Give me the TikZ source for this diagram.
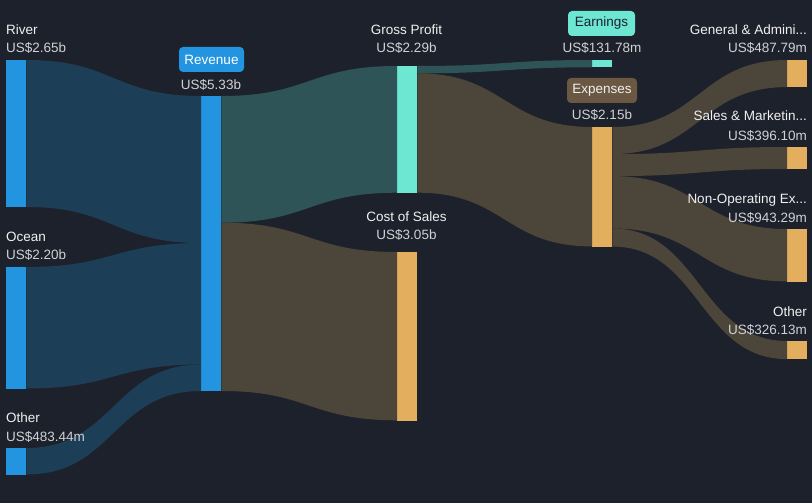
\documentclass[tikz,border=0pt]{standalone}
\usepackage{fontspec}
\setmainfont{Liberation Sans}
\usetikzlibrary{calc}
\definecolor{bg}{HTML}{1D212B}
\definecolor{barblue}{HTML}{2394DF}
\definecolor{flowblue}{HTML}{1D3E57}
\definecolor{barteal}{HTML}{6DE6D2}
\definecolor{flowteal}{HTML}{2E5457}
\definecolor{bartan}{HTML}{E4AE5F}
\definecolor{flowbrown}{HTML}{4C453A}
\definecolor{exptag}{HTML}{6B5843}
\definecolor{lblc}{HTML}{F0F0F0}
\definecolor{valc}{HTML}{CFD1D4}
\newcommand\sflow[6]{%
  \fill[#6] let \p1=($(#1.north east)+(0,#2)$), \p2=($(#3.north west)+(0,#4)$),
    \p3=($(\p1)!0.5!(\p2)$), \p4=($(\p2)+(0,#5)$), \p5=($(\p1)+(0,#5)$) in
    (\p1) .. controls (\x3,\y1) and (\x3,\y2) .. (\p2) -- (\p4)
    .. controls (\x3,\y4) and (\x3,\y5) .. (\p5) -- cycle;}
\begin{document}
\begin{tikzpicture}[x=1pt,y=-1pt,
  bar/.style={rectangle, inner sep=0pt, minimum width=20pt, anchor=north west},
  lbl/.style={font=\fontsize{13.5}{16}\selectfont, text=lblc, inner sep=0pt},
  val/.style={lbl, text=valc},
  tag/.style={rectangle, rounded corners=4pt, minimum height=25pt, inner sep=0pt, font=\fontsize{13.5}{16}\selectfont}]
\fill[bg] (0,0) rectangle (812,503);
\useasboundingbox (0,0) rectangle (812,503);
% bars
\node[bar, fill=barblue, minimum height=147pt] (river) at (6,60) {};
\node[bar, fill=barblue, minimum height=121.5pt] (ocean) at (6,267) {};
\node[bar, fill=barblue, minimum height=27pt] (othL) at (6,448) {};
\node[bar, fill=barblue, minimum height=295pt] (revenue) at (201,96) {};
\node[bar, fill=barteal, minimum height=126.7pt] (gp) at (397,66) {};
\node[bar, fill=bartan, minimum height=168.3pt] (cos) at (397,252) {};
\node[bar, fill=barteal, minimum height=7.3pt] (earn) at (592,60) {};
\node[bar, fill=bartan, minimum height=119.6pt] (exp) at (592,127) {};
\node[bar, fill=bartan, minimum height=27.1pt] (ga) at (787,60) {};
\node[bar, fill=bartan, minimum height=22pt] (sm) at (787,147) {};
\node[bar, fill=bartan, minimum height=52.4pt] (nonop) at (787,229) {};
\node[bar, fill=bartan, minimum height=18.1pt] (othR) at (787,341) {};
% flows
\sflow{river}{0}{revenue}{0}{147}{flowblue}
\sflow{ocean}{0}{revenue}{147}{121.5}{flowblue}
\sflow{othL}{0}{revenue}{268.5}{26.5}{flowblue}
\sflow{revenue}{0}{gp}{0}{126.7}{flowteal}
\sflow{revenue}{126.7}{cos}{0}{168.3}{flowbrown}
\sflow{gp}{0}{earn}{0}{7.3}{flowteal}
\sflow{gp}{7.3}{exp}{0}{119.4}{flowbrown}
\sflow{exp}{0}{ga}{0}{27.1}{flowbrown}
\sflow{exp}{27.1}{sm}{0}{22}{flowbrown}
\sflow{exp}{49.1}{nonop}{0}{52.4}{flowbrown}
\sflow{exp}{101.5}{othR}{0}{18.1}{flowbrown}
% left labels
\node[lbl, anchor=base west] (riverL) at (6,34.5) {River};
\node[val, anchor=base west] (riverV) at (6,52.5) {US\$2.65b};
\node[lbl, anchor=base west] (oceanL) at (6,241.5) {Ocean};
\node[val, anchor=base west] (oceanV) at (6,259.5) {US\$2.20b};
\node[lbl, anchor=base west] (othLL) at (6,422.5) {Other};
\node[val, anchor=base west] (othLV) at (6,441) {US\$483.44m};
% middle labels
\node[tag, fill=barblue, text=white, minimum width=65pt] (revtag) at (211.5,59.5) {Revenue};
\node[val, anchor=base] (revV) at (211,89) {US\$5.33b};
\node[lbl, anchor=base] (gpL) at (406.5,35) {Gross Profit};
\node[val, anchor=base] (gpV) at (406.5,53) {US\$2.29b};
\node[lbl, anchor=base] (cosL) at (406.5,221) {Cost of Sales};
\node[val, anchor=base] (cosV) at (406.5,239) {US\$3.05b};
\node[tag, fill=barteal, text=bg, minimum width=67pt] (earntag) at (601.5,23.5) {Earnings};
\node[val, anchor=base] (earnV) at (602,53) {US\$131.78m};
\node[tag, fill=exptag, text=lblc, minimum width=70pt] (exptagn) at (602,90.5) {Expenses};
\node[val, anchor=base] (expV) at (602,120) {US\$2.15b};
% right labels
\node[lbl, anchor=base east] (gaL) at (807,34.5) {General \& Admini...};
\node[val, anchor=base east] (gaV) at (807,53) {US\$487.79m};
\node[lbl, anchor=base east] (smL) at (807,121) {Sales \& Marketin...};
\node[val, anchor=base east] (smV) at (807,140) {US\$396.10m};
\node[lbl, anchor=base east] (nonopL) at (807,203) {Non-Operating Ex...};
\node[val, anchor=base east] (nonopV) at (807,222) {US\$943.29m};
\node[lbl, anchor=base east] (othRL) at (807,316) {Other};
\node[val, anchor=base east] (othRV) at (807,334.5) {US\$326.13m};
\end{tikzpicture}
\end{document}
